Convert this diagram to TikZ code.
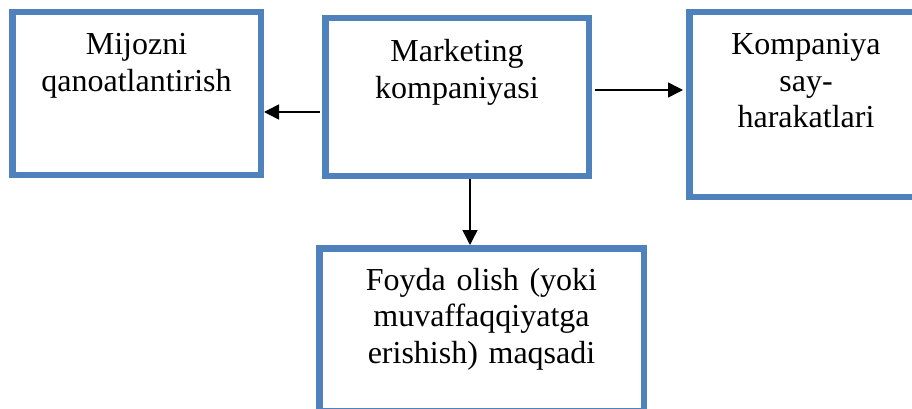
\documentclass[tikz,border=0pt]{standalone}
\usepackage{fontspec}
\setmainfont{Liberation Serif}
\usetikzlibrary{arrows.meta}
\definecolor{boxblue}{RGB}{79,129,189}
\tikzset{box/.style={draw=boxblue, line width=6.5pt, inner sep=0pt, align=center,
  text width=#1, font=\fontsize{32}{36.5}\selectfont, text height=42.5pt},
arr/.style={-{Triangle[length=15pt,width=15pt]}, line width=1.5pt}}

\begin{document}
\begin{tikzpicture}[x=1pt,y=-1pt]
\useasboundingbox (0,0) rectangle (912,409);

% boxes
\node[box=248.5pt, text depth=120pt] (mijoz) at (136.5,93.5) {Mijozni\\qanoatlantirish};
\node[box=263.5pt, text depth=114pt, text height=43.5pt] (mkt) at (457,97) {Marketing\\kompaniyasi};
\node[box=233.5pt, text depth=142pt] (harakat) at (806,104.5) {Kompaniya\\say-\\harakatlari};
\node[box=324.5pt, text depth=120.75pt, text height=41.75pt] (goal) at (481.5,329.5) {Foyda olish (yoki\\muvaffaqqiyatga\\erishish) maqsadi};

% arrows
\draw[arr, shorten <=2pt] (mkt.west |- 0,112) -- (mijoz.east |- 0,112);
\draw[arr, shorten <=3pt, shorten >=3pt] (mkt.east |- 0,90) -- (harakat.west |- 0,90);
\draw[arr] (mkt.south -| 470,0) -- (goal.north -| 470,0);

\end{tikzpicture}
\end{document}
